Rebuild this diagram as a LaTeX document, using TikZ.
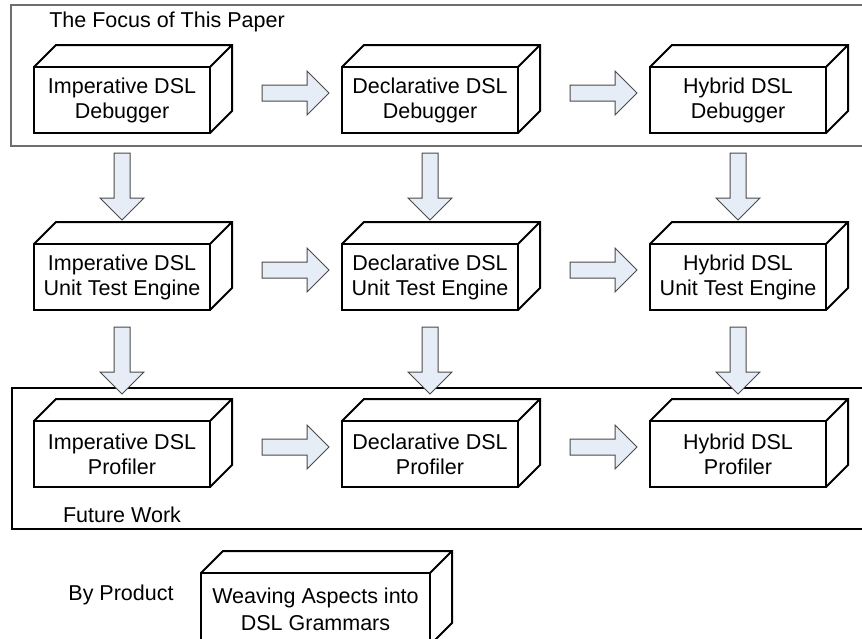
\documentclass[tikz,border=0pt]{standalone}
\usepackage{fontspec}
\setmainfont{Liberation Sans}
\usetikzlibrary{shapes.arrows,positioning,calc}
\definecolor{ink}{HTML}{000000}
\definecolor{haze}{HTML}{E6EDF7}
\definecolor{slate}{HTML}{4A4A4A}
\definecolor{ash}{HTML}{6E6E6E}

\begin{document}
\begin{tikzpicture}[
    x=1pt, y=-1pt,
    node distance=111pt and 132pt,
    cube/.style={rectangle, draw=ink, line width=2pt, outer sep=0pt,
                 minimum width=176pt, minimum height=66pt, inner sep=0pt,
                 align=center, font=\fontsize{21.5}{25}\selectfont},
    barr/.style={single arrow, draw=slate, line width=1pt, fill=haze,
                 minimum height=67pt, inner sep=7.5pt, outer sep=0pt,
                 single arrow head extend=14pt},
    frm/.style={line width=2pt},
    lbl/.style={font=\fontsize{21.5}{25}\selectfont, inner sep=0pt}
  ]
  \useasboundingbox (0,0) rectangle (862,638);
  % group frames
  \draw[frm, draw=ash] (11,5) rectangle (880,146);
  \draw[frm, line width=1.5pt, draw=ink] (12,388) rectangle (880,529);
  \node[lbl] (focus) at (167,22) {The Focus of This Paper};
  \node[lbl] (future) at (122,515) {Future Work};
  \node[lbl] (byprod) at (121,595) {By Product};

  % tool grid
  \node[cube] (impdbg) at (122,100) {Imperative DSL\\Debugger};
  \node[cube, right=of impdbg] (decdbg) {Declarative DSL\\Debugger};
  \node[cube, right=of decdbg] (hybdbg) {Hybrid DSL\\Debugger};
  \node[cube, below=of impdbg] (imptest) {Imperative DSL\\Unit Test Engine};
  \node[cube, right=of imptest] (dectest) {Declarative DSL\\Unit Test Engine};
  \node[cube, right=of dectest] (hybtest) {Hybrid DSL\\Unit Test Engine};
  \node[cube, below=of imptest] (impprof) {Imperative DSL\\Profiler};
  \node[cube, right=of impprof] (decprof) {Declarative DSL\\Profiler};
  \node[cube, right=of decprof] (hybprof) {Hybrid DSL\\Profiler};
  \node[cube, minimum width=229pt, minimum height=72pt,
        font=\fontsize{21.5}{27}\selectfont] (weave)
    at (315.5,609) {Weaving Aspects into\\DSL Grammars};

  % depth of the boxes
  \foreach \n in {impdbg,decdbg,hybdbg,imptest,dectest,hybtest,impprof,decprof,hybprof,weave}
    \draw[line width=2pt, draw=ink] (\n.north west) -- ++(22,-22)
      -- ([shift={(22,-22)}]\n.north east) -- ([shift={(22,-22)}]\n.south east)
      -- (\n.south east) (\n.north east) -- ++(22,-22);

  % block arrows
  \foreach \a/\b in {impdbg/decdbg,decdbg/hybdbg,imptest/dectest,dectest/hybtest,impprof/decprof,decprof/hybprof}
    \node[barr] (\a-\b) at ($(\a.east)!0.5!(\b.west)+(15.5,-7)$) {};
  \foreach \a/\b/\s in {impdbg/imptest/6,decdbg/dectest/6,hybdbg/hybtest/6,imptest/impprof/9,dectest/decprof/9,hybtest/hybprof/9}
    \node[barr, rotate=-90] (\a-\b) at ($(\a.south)!0.5!(\b.north)+(0,-\s)$) {};
\end{tikzpicture}
\end{document}
